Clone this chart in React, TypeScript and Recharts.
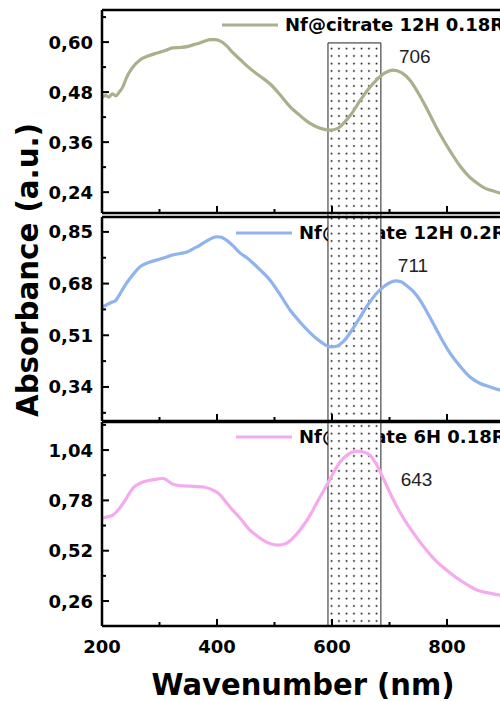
import React from 'react';
import { LineChart, Line, XAxis, YAxis, ReferenceArea, ReferenceDot } from 'recharts';

// Wavelength grid (nm) and absorbance (a.u.) for each sample
const WL_12H_018 = [200, 206, 212, 218, 224, 230, 236, 243, 252, 266, 281, 296, 310, 323, 336, 348, 360, 370, 380, 388, 396, 405, 416, 428, 442, 457, 475, 492, 510, 527, 545, 562, 580, 597, 610, 619, 634, 649, 663, 678, 692, 706, 721, 736, 750, 765, 779, 793, 808, 823, 838, 852, 864, 875, 892, 900];
const ABS_12H_018 = [0.466, 0.472, 0.468, 0.476, 0.471, 0.48, 0.492, 0.516, 0.537, 0.557, 0.567, 0.574, 0.58, 0.586, 0.587, 0.589, 0.594, 0.598, 0.603, 0.606, 0.606, 0.603, 0.592, 0.574, 0.556, 0.537, 0.518, 0.5, 0.473, 0.445, 0.423, 0.405, 0.393, 0.389, 0.393, 0.404, 0.428, 0.46, 0.487, 0.51, 0.526, 0.533, 0.527, 0.508, 0.478, 0.44, 0.402, 0.367, 0.333, 0.302, 0.278, 0.262, 0.251, 0.245, 0.238, 0.235];

const WL_12H_02 = [200, 208, 215, 219, 224, 228, 235, 243, 254, 266, 281, 296, 310, 323, 336, 348, 360, 370, 380, 393, 400, 408, 417, 428, 440, 452, 460, 475, 492, 510, 527, 545, 562, 580, 597, 608, 619, 634, 649, 663, 678, 692, 703, 711, 720, 730, 741, 755, 770, 787, 805, 822, 840, 857, 875, 892, 900];
const ABS_12H_02 = [0.603, 0.61, 0.617, 0.62, 0.625, 0.636, 0.658, 0.682, 0.71, 0.735, 0.749, 0.758, 0.766, 0.774, 0.779, 0.784, 0.796, 0.806, 0.818, 0.831, 0.834, 0.832, 0.822, 0.804, 0.781, 0.765, 0.752, 0.725, 0.692, 0.643, 0.593, 0.552, 0.518, 0.489, 0.472, 0.474, 0.488, 0.525, 0.57, 0.612, 0.649, 0.673, 0.685, 0.689, 0.686, 0.673, 0.655, 0.62, 0.57, 0.51, 0.452, 0.41, 0.373, 0.352, 0.34, 0.33, 0.327];

const WL_6H_018 = [200, 210, 219, 228, 237, 246, 254, 262, 271, 283, 296, 306, 314, 323, 335, 348, 362, 376, 393, 405, 417, 428, 440, 457, 468, 480, 493, 506, 519, 532, 547, 562, 576, 591, 603, 614, 628, 643, 655, 666, 678, 689, 703, 718, 733, 748, 765, 783, 800, 817, 835, 852, 872, 892, 900];
const ABS_6H_018 = [0.689, 0.695, 0.704, 0.73, 0.766, 0.808, 0.844, 0.862, 0.875, 0.884, 0.89, 0.894, 0.882, 0.864, 0.856, 0.854, 0.852, 0.849, 0.833, 0.81, 0.766, 0.727, 0.689, 0.627, 0.6, 0.575, 0.556, 0.549, 0.556, 0.585, 0.637, 0.704, 0.78, 0.859, 0.925, 0.978, 1.018, 1.035, 1.03, 1.014, 0.962, 0.895, 0.805, 0.72, 0.648, 0.585, 0.52, 0.461, 0.418, 0.379, 0.345, 0.317, 0.302, 0.291, 0.288];

const SERIES_NAMES = ['Nf@citrate 12H 0.18R', 'Nf@citrate 12H 0.2R', 'Nf@citrate 6H 0.18R'];
const PEAKS_NM = [706, 711, 643];

// Axis ticks
const X_TICKS = [200, 300, 400, 500, 600, 700, 800, 900];
const X_LABELS = [200, 400, 600, 800];
const Y_LABELS_1 = [0.24, 0.36, 0.48, 0.6];
const Y_MINOR_1 = [0.3, 0.42, 0.54, 0.66];
const Y_LABELS_2 = [0.34, 0.51, 0.68, 0.85];
const Y_MINOR_2 = [0.255, 0.425, 0.595, 0.765];
const Y_LABELS_3 = [0.26, 0.52, 0.78, 1.04];
const Y_MINOR_3 = [0.39, 0.65, 0.91, 1.17];

// Highlighted wavelength band (nm)
const BAND_NM = [593, 685];

const BOLD_FONT = '"DejaVu Sans", "Noto Sans", sans-serif';
const PLAIN_FONT = '"Liberation Sans", Arial, sans-serif';
const CHART_W = 520;
const AXIS_W = 102;
const X_DOMAIN: [number, number] = [200, 900];

const toRows = (wl: number[], abs: number[]) => wl.map((nm, i) => ({ nm, abs: abs[i] }));

function XTick(props: any) {
  const { x, y, payload, showLabel } = props;
  const v = payload.value;
  const major = X_LABELS.includes(v);
  return (
    <g>
      <line x1={x} x2={x} y1={y} y2={y - (major ? 7 : 4)} stroke="#000" strokeWidth={2} />
      {showLabel && major && (
        <text x={x} y={y + 27} textAnchor="middle" fontFamily={BOLD_FONT} fontWeight="bold" fontSize={18} fill="#000">
          {v}
        </text>
      )}
    </g>
  );
}

function YTick(props: any) {
  const { x, y, payload, labels } = props;
  const v = payload.value;
  const major = labels.includes(v);
  return (
    <g>
      <line x1={x} x2={x + (major ? 7 : 4)} y1={y} y2={y} stroke="#000" strokeWidth={2} />
      {major && (
        <text x={x - 9} y={y} dy="0.36em" textAnchor="end" fontFamily={BOLD_FONT} fontWeight="bold" fontSize={18} fill="#000">
          {v.toFixed(2).replace('.', ',')}
        </text>
      )}
    </g>
  );
}

function BandShape(props: any) {
  const { x, y, width, height, pid, topEdge } = props;
  return (
    <g>
      <defs>
        <pattern id={`dots-${pid}`} width={7.5} height={7.5} patternUnits="userSpaceOnUse" x={x} y={0}>
          <rect width={7.5} height={7.5} fill="#fff" />
          <circle cx={3.5} cy={3.5} r={0.9} fill="#000" />
        </pattern>
      </defs>
      <rect x={x} y={y} width={width} height={height} fill={`url(#dots-${pid})`} />
      <line x1={x} x2={x} y1={y} y2={y + height} stroke="#222" strokeWidth={1} />
      <line x1={x + width} x2={x + width} y1={y} y2={y + height} stroke="#222" strokeWidth={1} />
      {topEdge && <line x1={x} x2={x + width} y1={y} y2={y} stroke="#222" strokeWidth={1} />}
    </g>
  );
}

function SeriesKey({ x, y, color, name }: { x: number; y: number; color: string; name: string }) {
  return (
    <g>
      <line x1={x} x2={x + 56} y1={y} y2={y} stroke={color} strokeWidth={3.2} />
      <text x={x + 63} y={y} dy="0.36em" fontFamily={BOLD_FONT} fontWeight="bold" fontSize={18} fill="#000">
        {name}
      </text>
    </g>
  );
}

type Panel = {
  id: string;
  top: number;
  height: number;
  margin: { top: number; bottom: number };
  domain: [number, number];
  labels: number[];
  minor: number[];
  color: string;
  name: string;
  rows: { nm: number; abs: number }[];
  peak: number;
  peakDx: number;
  peakDy: number;
  keyX: number;
  keyY: number;
  band: [number, number];
  showX: boolean;
};

const PANELS: Panel[] = [
  {
    id: 'a', top: 0, height: 216, margin: { top: 9, bottom: 2 }, domain: [0.19, 0.677],
    labels: Y_LABELS_1, minor: Y_MINOR_1, color: '#a9b08c', name: SERIES_NAMES[0],
    rows: toRows(WL_12H_018, ABS_12H_018), peak: PEAKS_NM[0], peakDx: 6, peakDy: -7,
    keyX: 222, keyY: 25, band: [0.185, 0.598], showX: false,
  },
  {
    id: 'b', top: 200, height: 224, margin: { top: 16, bottom: 2 }, domain: [0.228, 0.899],
    labels: Y_LABELS_2, minor: Y_MINOR_2, color: '#8fb3ee', name: SERIES_NAMES[1],
    rows: toRows(WL_12H_02, ABS_12H_02), peak: PEAKS_NM[1], peakDx: 2, peakDy: -9,
    keyX: 236, keyY: 33, band: [0.226, 0.906], showX: false,
  },
  {
    id: 'c', top: 400, height: 266, margin: { top: 21, bottom: 39 }, domain: [0.131, 1.185],
    labels: Y_LABELS_3, minor: Y_MINOR_3, color: '#f5aaee', name: SERIES_NAMES[2],
    rows: toRows(WL_6H_018, ABS_6H_018), peak: PEAKS_NM[2], peakDx: 44, peakDy: 35,
    keyX: 236, keyY: 37, band: [0.131, 1.19], showX: true,
  },
];

function PanelChart({ p }: { p: Panel }) {
  const peakRow = p.rows.find((r) => r.nm === p.peak)!;
  const axisLine = { stroke: '#000', strokeWidth: 2.5 };
  return (
    <div style={{ position: 'absolute', left: 0, top: p.top }}>
      <LineChart
        width={CHART_W}
        height={p.height}
        data={p.rows}
        margin={{ top: p.margin.top, right: CHART_W - AXIS_W - 402.5, bottom: p.margin.bottom, left: 0 }}
      >
        <SeriesKey x={p.keyX} y={p.keyY} color={p.color} name={p.name} />
        <XAxis
          xAxisId="bottom"
          dataKey="nm"
          type="number"
          domain={X_DOMAIN}
          allowDataOverflow
          ticks={X_TICKS}
          interval={0}
          height={1}
          tickSize={0}
          tickMargin={0}
          tickLine={false}
          axisLine={axisLine}
          tick={<XTick showLabel={p.showX} />}
        />
        <XAxis
          xAxisId="top"
          orientation="top"
          dataKey="nm"
          type="number"
          domain={X_DOMAIN}
          allowDataOverflow
          ticks={X_TICKS}
          height={1}
          tick={false}
          tickLine={false}
          axisLine={axisLine}
        />
        <YAxis
          type="number"
          domain={p.domain}
          allowDataOverflow
          ticks={[...p.labels, ...p.minor].sort((a, b) => a - b)}
          interval={0}
          width={AXIS_W}
          tickSize={0}
          tickMargin={0}
          tickLine={false}
          axisLine={axisLine}
          tick={<YTick labels={p.labels} />}
        />
        <ReferenceArea
          xAxisId="bottom"
          x1={BAND_NM[0]}
          x2={BAND_NM[1]}
          y1={p.band[0]}
          y2={p.band[1]}
          ifOverflow="visible"
          shape={<BandShape pid={p.id} topEdge={p.id === 'a'} />}
        />
        <Line
          xAxisId="bottom"
          type="monotone"
          dataKey="abs"
          stroke={p.color}
          strokeWidth={3.2}
          dot={false}
          isAnimationActive={false}
        />
        <ReferenceDot
          xAxisId="bottom"
          x={p.peak}
          y={peakRow.abs}
          r={0}
          fill="none"
          stroke="none"
          label={{
            content: (lp: any) => (
              <text
                x={lp.viewBox.x + p.peakDx}
                y={lp.viewBox.y + p.peakDy}
                fontFamily={PLAIN_FONT}
                fontSize={19}
                fill="#222"
              >
                {p.peak}
              </text>
            ),
          }}
        />
      </LineChart>
    </div>
  );
}

export default function App() {
  return (
    <div
      style={{
        position: 'absolute',
        left: 0,
        top: 0,
        width: 500,
        height: 701,
        overflow: 'hidden',
        background: '#fff',
      }}
    >
      {PANELS.map((p) => (
        <PanelChart key={p.id} p={p} />
      ))}
      <svg width={500} height={701} style={{ position: 'absolute', left: 0, top: 0, pointerEvents: 'none' }}>
        <text
          transform="translate(38,270) rotate(-90)"
          textAnchor="middle"
          fontFamily={BOLD_FONT}
          fontWeight="bold"
          fontSize={30}
          textLength={294}
          lengthAdjust="spacingAndGlyphs"
          fill="#000"
        >
          Absorbance (a.u.)
        </text>
        <text
          x={303}
          y={695}
          textAnchor="middle"
          fontFamily={BOLD_FONT}
          fontWeight="bold"
          fontSize={30}
          textLength={303}
          lengthAdjust="spacingAndGlyphs"
          fill="#000"
        >
          Wavenumber (nm)
        </text>
      </svg>
    </div>
  );
}
